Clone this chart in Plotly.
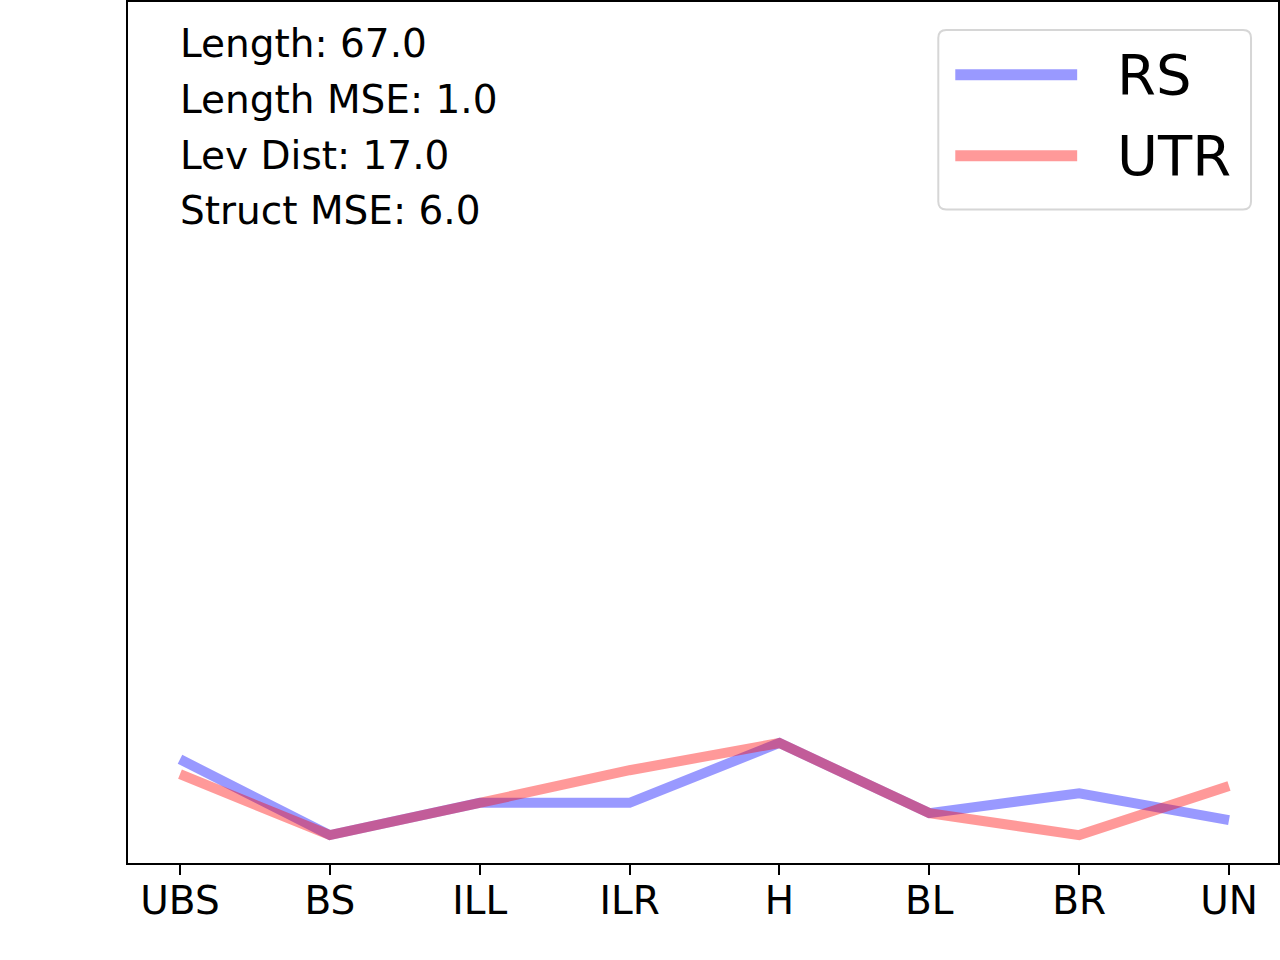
import plotly.graph_objects as go

# structure categories along the x axis
categories = ["UBS", "BS", "ILL", "ILR", "H", "BL", "BR", "UN"]

# values
rs_values = [8.07, 2.17, 4.68, 4.68, 9.34, 3.88, 5.43, 3.34]
utr_values = [6.91, 2.17, 4.68, 7.22, 9.34, 3.88, 2.17, 6.00]

series_names = ["RS", "UTR"]
series_colors = ["rgba(0,0,255,0.4)", "rgba(255,0,0,0.4)"]

stats_lines = [
    "Length: 67.0",
    "Length MSE: 1.0",
    "Lev Dist: 17.0",
    "Struct MSE: 6.0",
]

FONT = "DejaVu Sans"
W, H = 1280, 960
ML, MR, MT, MB = 128, 1, 0, 97
PW, PH = W - ML - MR, H - MT - MB


def px_x(px):
    return (px - ML) / PW


def px_y(py):
    return (MT + PH - py) / PH


fig = go.Figure()
for name, vals, col in zip(series_names, [rs_values, utr_values], series_colors):
    fig.add_trace(
        go.Scatter(
            x=list(range(len(categories))),
            y=vals,
            mode="lines",
            name=name,
            line=dict(color=col, width=10),
            showlegend=False,
        )
    )

# stats text block in upper left
for i, txt in enumerate(stats_lines):
    fig.add_annotation(
        x=px_x(178), y=px_y(42 + i * 55.7), xref="paper", yref="paper",
        text=txt, showarrow=False, xanchor="left", yanchor="middle",
        font=dict(family=FONT, size=39, color="black"),
    )

# matplotlib-like legend drawn by hand (long sample lines)
x0, x1 = px_x(939), px_x(1252)
y0, y1 = px_y(208), px_y(28)
rx, ry = 8 / PW, 8 / PH
path = (
    f"M {x0+rx},{y0} L {x1-rx},{y0} Q {x1},{y0} {x1},{y0+ry} "
    f"L {x1},{y1-ry} Q {x1},{y1} {x1-rx},{y1} "
    f"L {x0+rx},{y1} Q {x0},{y1} {x0},{y1-ry} "
    f"L {x0},{y0+ry} Q {x0},{y0} {x0+rx},{y0} Z"
)
fig.add_shape(type="path", path=path, xref="paper", yref="paper",
              line=dict(color="#d6d6d6", width=2), fillcolor="rgba(255,255,255,0.8)")
for i, (name, col) in enumerate(zip(series_names, series_colors)):
    yy = px_y(73 + i * 81)
    fig.add_shape(type="line", xref="paper", yref="paper",
                  x0=px_x(956), x1=px_x(1078), y0=yy, y1=yy,
                  line=dict(color=col, width=11))
    fig.add_annotation(
        x=px_x(1116), y=yy, xref="paper", yref="paper", text=name,
        showarrow=False, xanchor="left", yanchor="middle",
        font=dict(family=FONT, size=56, color="black"),
    )

fig.update_layout(
    width=W, height=H,
    margin=dict(l=ML, r=MR, t=MT, b=MB, pad=0),
    plot_bgcolor="white", paper_bgcolor="white",
    font=dict(family=FONT, color="black"),
)
fig.update_xaxes(
    range=[-0.347, 7.327],
    tickmode="array", tickvals=list(range(len(categories))), ticktext=categories,
    ticks="outside", ticklen=10, tickwidth=2, tickcolor="black",
    ticklabelstandoff=-8,
    tickfont=dict(family=FONT, size=39, color="black"),
    showline=True, linecolor="black", linewidth=2, mirror=True,
    showgrid=False, zeroline=False,
)
fig.update_yaxes(
    range=[0, 67], showticklabels=False, ticks="",
    showline=True, linecolor="black", linewidth=2, mirror=True,
    showgrid=False, zeroline=False,
)

fig.write_html(
    "out.html",
    config={"displayModeBar": False},
    post_script="document.body.style.margin='0';",
)
